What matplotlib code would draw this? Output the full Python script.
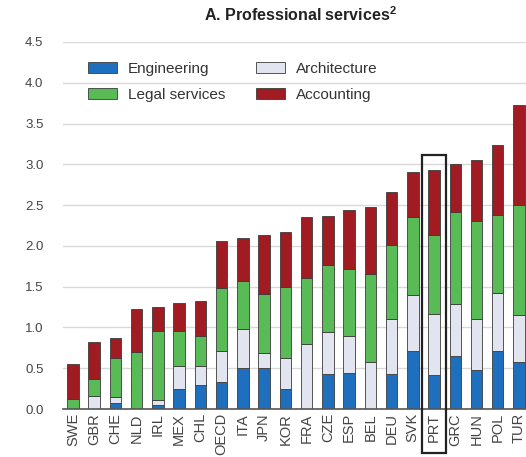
import matplotlib
matplotlib.use("Agg")
import matplotlib.pyplot as plt
from matplotlib.patches import Rectangle
import numpy as np

plt.rcParams['font.family'] = ['Liberation Sans', 'DejaVu Sans']

countries = ["SWE", "GBR", "CHE", "NLD", "IRL", "MEX", "CHL", "OECD", "ITA", "JPN", "KOR",
             "FRA", "CZE", "ESP", "BEL", "DEU", "SVK", "PRT", "GRC", "HUN", "POL", "TUR"]
engineering = [0.00, 0.00, 0.07, 0.00, 0.05, 0.24, 0.29, 0.33, 0.50, 0.50, 0.25,
               0.00, 0.43, 0.44, 0.00, 0.43, 0.71, 0.42, 0.65, 0.48, 0.71, 0.58]
architecture = [0.00, 0.16, 0.08, 0.00, 0.06, 0.29, 0.24, 0.38, 0.48, 0.19, 0.38,
                0.80, 0.52, 0.45, 0.58, 0.67, 0.69, 0.74, 0.64, 0.62, 0.71, 0.57]
legal = [0.12, 0.21, 0.48, 0.70, 0.85, 0.43, 0.36, 0.77, 0.59, 0.72, 0.86,
         0.81, 0.81, 0.83, 1.08, 0.91, 0.95, 0.97, 1.12, 1.20, 0.96, 1.35]
accounting = [0.43, 0.45, 0.24, 0.53, 0.29, 0.34, 0.43, 0.58, 0.53, 0.72, 0.68,
              0.74, 0.61, 0.72, 0.82, 0.65, 0.55, 0.80, 0.60, 0.75, 0.86, 1.23]
highlight = "PRT"

series = [
    ("Engineering", engineering, "#1f6fbf"),
    ("Architecture", architecture, "#e2e5f0"),
    ("Legal services", legal, "#58bb56"),
    ("Accounting", accounting, "#a01c22"),
]

W, H = 526, 457
fig = plt.figure(figsize=(W / 100, H / 100), dpi=100)
ax = fig.add_axes([63 / W, (H - 409) / H, (W - 63) / W, (409 - 42) / H])

x = np.arange(len(countries))
bottom = np.zeros(len(countries))
handles = {}
for name, vals, color in series:
    vals = np.array(vals)
    b = ax.bar(x, vals, width=0.54, bottom=bottom, color=color,
               edgecolor="#3b3b3b", linewidth=0.6, label=name, zorder=3)
    handles[name] = b
    bottom += vals

ax.set_xlim(-0.47, 21.33)
ax.set_ylim(0, 4.5)
ax.set_yticks(np.arange(0, 4.51, 0.5))
ax.set_yticklabels([f"{v:.1f}" for v in np.arange(0, 4.51, 0.5)])
ax.set_xticks(x)
ax.set_xticklabels(countries, rotation=90)
ax.tick_params(axis="both", length=0, colors="#444444")
ax.tick_params(axis="y", labelsize=9.5, pad=14)
ax.tick_params(axis="x", labelsize=10.5, pad=3)
ax.grid(axis="y", color="#d9d9d9", linewidth=1.0, zorder=0)
for side in ["top", "right", "left"]:
    ax.spines[side].set_visible(False)
ax.spines["bottom"].set_color("#555555")
ax.spines["bottom"].set_linewidth(1.2)
ax.spines["bottom"].set_zorder(4)

# Frame around the highlighted country, bar and label together
i = countries.index(highlight)
top = bottom[i] + 0.18
rect = Rectangle((i - 0.56, -0.54), 1.12, top + 0.54, fill=False,
                 edgecolor="#222222", linewidth=1.6, clip_on=False, zorder=5)
ax.add_patch(rect)

# Legend filled column-wise: two rows of two entries
order = ["Engineering", "Legal services", "Architecture", "Accounting"]
leg = ax.legend([handles[n] for n in order], order, ncol=2, frameon=False,
                loc="upper left", bbox_to_anchor=(0.055, 0.945),
                borderpad=0, borderaxespad=0,
                fontsize=11, handlelength=1.9, handleheight=0.75,
                columnspacing=2.0, labelspacing=0.75, handletextpad=0.7)
for t in leg.get_texts():
    t.set_color("#333333")

fig.text(300 / W, (H - 15) / H, r"A. Professional services$^{\mathregular{2}}$",
         ha="center", va="center", fontsize=11.5, fontweight="bold", color="#222222")

fig.savefig("out.png", dpi=100)
